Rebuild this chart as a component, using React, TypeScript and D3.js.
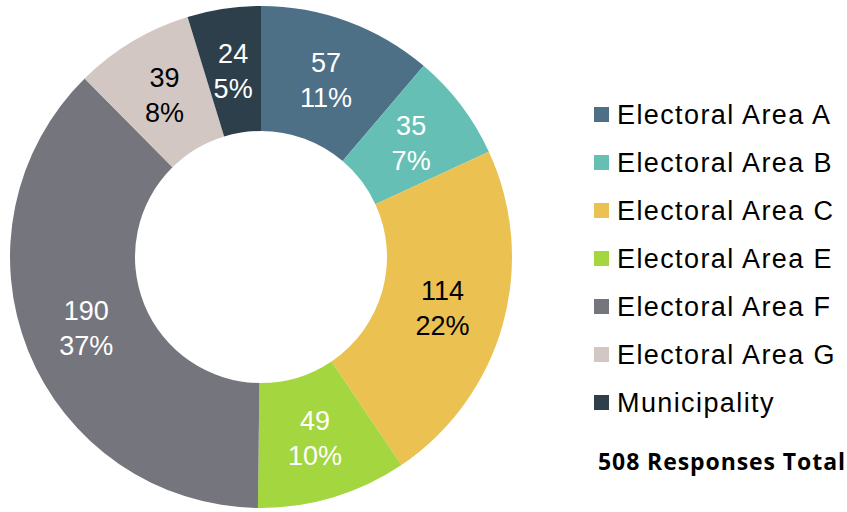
import React, { useRef, useEffect } from 'react';
import * as d3 from 'd3';

const categories = [
  'Electoral Area A',
  'Electoral Area B',
  'Electoral Area C',
  'Electoral Area E',
  'Electoral Area F',
  'Electoral Area G',
  'Municipality',
];
const responses = [57, 35, 114, 49, 190, 39, 24];
const percentLabels = ['11%', '7%', '22%', '10%', '37%', '8%', '5%'];
const sliceColors = ['#4e7086', '#66bfb5', '#ebc152', '#a4d63f', '#75757e', '#d2c7c3', '#2e3f4c'];
const labelColors = ['#fff', '#fff', '#000', '#fff', '#fff', '#000', '#fff'];
const totalLabel = '508 Responses Total';

export default function App() {
  const svgEl = useRef<SVGSVGElement>(null);

  useEffect(() => {
    const svg = d3.select(svgEl.current);
    svg.selectAll('*').remove();

    const cx = 261;
    const cy = 257;
    const outer = 251;
    const inner = 126;

    const pie = d3.pie<number>().sort(null).value((d) => d);
    const arc = d3.arc<d3.PieArcDatum<number>>().innerRadius(inner).outerRadius(outer);
    const arcs = pie(responses);

    const g = svg.append('g').attr('transform', `translate(${cx},${cy})`);
    g.selectAll('path')
      .data(arcs)
      .join('path')
      .attr('d', arc)
      .attr('fill', (d, i) => sliceColors[i]);

    const lbl = g
      .selectAll('text')
      .data(arcs)
      .join('text')
      .attr('transform', (d) => `translate(${arc.centroid(d)})`)
      .attr('text-anchor', 'middle')
      .attr('font-family', 'Liberation Sans, Arial, sans-serif')
      .attr('font-size', 27)
      .attr('fill', (d, i) => labelColors[i]);
    lbl.append('tspan').attr('x', 0).attr('y', -8).text((d) => d.data);
    lbl.append('tspan').attr('x', 0).attr('y', 27).text((d, i) => percentLabels[i]);

    const legend = svg
      .append('g')
      .selectAll('g')
      .data(categories)
      .join('g')
      .attr('transform', (d, i) => `translate(594,${115 + i * 48})`);
    legend
      .append('rect')
      .attr('x', 0)
      .attr('y', -8)
      .attr('width', 15)
      .attr('height', 15)
      .attr('fill', (d, i) => sliceColors[i]);
    legend
      .append('text')
      .attr('x', 23)
      .attr('y', 0)
      .attr('dy', '0.35em')
      .attr('font-family', 'Liberation Sans, Arial, sans-serif')
      .attr('font-size', 27)
      .attr('letter-spacing', 1.4)
      .attr('fill', '#000')
      .text((d) => d);

    svg
      .append('text')
      .attr('x', 598)
      .attr('y', 462)
      .attr('dy', '0.35em')
      .attr('font-family', 'Open Sans, sans-serif')
      .attr('font-weight', 'bold')
      .attr('font-size', 23)
      .attr('textLength', 247)
      .attr('fill', '#000')
      .text(totalLabel);
  }, []);

  return (
    <svg
      ref={svgEl}
      width={847}
      height={512}
      style={{ position: 'absolute', left: 0, top: 0, background: '#fff' }}
    />
  );
}
